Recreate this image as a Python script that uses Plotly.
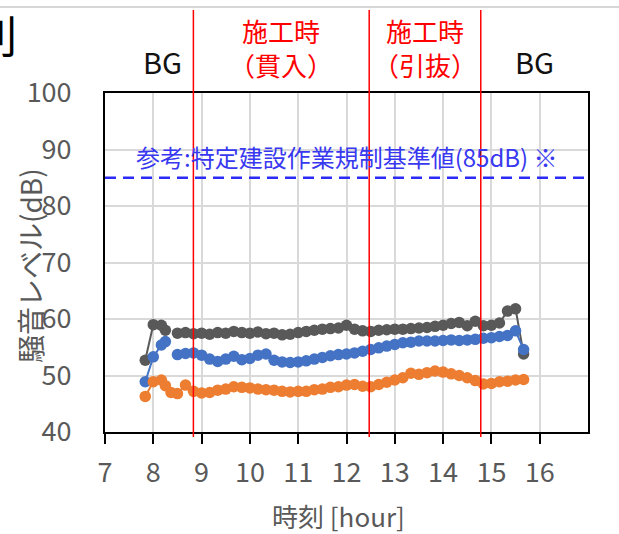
import plotly.graph_objects as go

# ---------------- data ----------------
times = ["7:50", "8:00", "8:10", "8:15", "8:22",
         "8:30", "8:40", "8:50",
         "9:00", "9:10", "9:20", "9:30", "9:40", "9:50",
         "10:00", "10:10", "10:20", "10:30", "10:40", "10:50",
         "11:00", "11:10", "11:20", "11:30", "11:40", "11:50",
         "12:00", "12:10", "12:20", "12:30", "12:40", "12:50",
         "13:00", "13:10", "13:20", "13:30", "13:40", "13:50",
         "14:00", "14:10", "14:20", "14:30", "14:40", "14:50",
         "15:00", "15:10", "15:20", "15:30", "15:40"]

gray_values = [52.7, 59.0, 58.9, 58.0, None,
               57.5, 57.6, 57.4,
               57.5, 57.3, 57.6, 57.5, 57.8, 57.6,
               57.5, 57.7, 57.4, 57.5, 57.2, 57.3,
               57.6, 57.8, 58.0, 58.2, 58.3, 58.4,
               58.9, 58.2, 57.9, 57.8, 58.0, 58.1,
               58.2, 58.2, 58.3, 58.4, 58.5, 58.7,
               58.9, 59.2, 59.4, 58.8, 59.6, 58.8,
               58.9, 59.3, 61.4, 61.8, 53.8]

blue_values = [48.9, 53.3, 55.4, 56.0, None,
               53.7, 53.9, 54.0,
               53.6, 52.9, 52.5, 52.9, 53.4, 52.8,
               53.0, 53.6, 53.8, 52.7, 52.4, 52.3,
               52.4, 52.6, 52.9, 53.2, 53.5, 53.7,
               53.8, 54.0, 54.3, 54.6, 54.9, 55.2,
               55.5, 55.8, 55.9, 56.1, 56.1, 56.1,
               56.2, 56.3, 56.2, 56.3, 56.4, 56.6,
               56.7, 56.9, 57.1, 57.9, 54.6]

orange_values = [46.3, 48.9, 49.2, 48.2, 47.0,
                 46.8, 48.3, 47.2,
                 46.9, 47.0, 47.4, 47.6, 48.0, 47.9,
                 47.8, 47.6, 47.5, 47.4, 47.2, 47.1,
                 47.2, 47.2, 47.5, 47.6, 47.9, 48.0,
                 48.3, 48.4, 48.1, 48.0, 48.4, 48.8,
                 49.2, 49.6, 50.4, 50.2, 50.5, 50.8,
                 50.6, 50.3, 50.0, 49.6, 49.1, 48.5,
                 48.6, 48.9, 49.0, 49.2, 49.3]

phase_boundaries = [8.83, 12.47, 14.78]
bg_label_x = [8.2, 15.9]
bg_label = "BG"
work_label_x = [10.65, 13.62]
work_labels = ["施工時<br>（貫入）", "施工時<br>（引抜）"]
reference_level = 85
reference_text = "参考:特定建設作業規制基準値(85dB) ※"
x_ticks = [7, 8, 9, 10, 11, 12, 13, 14, 15, 16]
y_ticks = [40, 50, 60, 70, 80, 90, 100]


def to_hour(t):
    h, m = t.split(":")
    return int(h) + int(m) / 60.0


hours = [to_hour(t) for t in times]

FONT = "Noto Sans CJK JP"
L, R, T, B = 105, 31, 93, 102
W, H = 619, 534
PW, PH = W - L - R, H - T - B


def px_to_paper_x(px):
    return (px - L) / PW


def px_to_paper_y(py):
    return (H - B - py) / PH


fig = go.Figure()

for name, vals, col in [("系列1", gray_values, "#595959"),
                        ("系列2", blue_values, "#4472C4"),
                        ("系列3", orange_values, "#ED7D31")]:
    fig.add_trace(go.Scatter(
        x=hours, y=vals, name=name, mode="lines+markers",
        line=dict(color=col, width=2),
        marker=dict(color=col, size=11.5),
        connectgaps=False, showlegend=False, cliponaxis=False))

# reference dashed line
fig.add_shape(type="line", xref="paper", yref="y", x0=0, x1=1,
              y0=reference_level, y1=reference_level,
              line=dict(color="#2B2BF5", width=2.5, dash="11px,7px"))

# red phase boundary lines
for b in phase_boundaries:
    fig.add_shape(type="line", xref="x", yref="paper", x0=b, x1=b,
                  y0=px_to_paper_y(437), y1=px_to_paper_y(10),
                  line=dict(color="#FF0000", width=1.5))

# top gray rule
fig.add_shape(type="line", xref="paper", yref="paper",
              x0=px_to_paper_x(0), x1=px_to_paper_x(W),
              y0=px_to_paper_y(7), y1=px_to_paper_y(7),
              line=dict(color="#C8C8C8", width=1.5))

annotations = []
for xv in bg_label_x:
    annotations.append(dict(
        x=xv, xref="x", y=px_to_paper_y(61), yref="paper",
        text=bg_label, showarrow=False, xanchor="center", yanchor="middle",
        font=dict(family=FONT, size=29, color="#111111")))
for xv, lab in zip(work_label_x, work_labels):
    annotations.append(dict(
        x=xv, xref="x", y=px_to_paper_y(47.5), yref="paper",
        text=lab, showarrow=False, xanchor="center", yanchor="middle",
        align="center",
        font=dict(family=FONT, size=26, color="#FF0000")))

annotations.append(dict(
    x=px_to_paper_x(347), xref="paper", y=px_to_paper_y(156), yref="paper",
    text=reference_text, showarrow=False, xanchor="center", yanchor="middle",
    font=dict(family=FONT, size=24, color="#3838F0")))

# axis titles
annotations.append(dict(
    x=px_to_paper_x(30), xref="paper", y=px_to_paper_y(266), yref="paper",
    text="騒音レベル(dB)", textangle=-90, showarrow=False,
    xanchor="center", yanchor="middle",
    font=dict(family=FONT, size=28, color="#595959")))
annotations.append(dict(
    x=px_to_paper_x(338), xref="paper", y=px_to_paper_y(515), yref="paper",
    text="時刻 [hour]", showarrow=False, xanchor="center", yanchor="middle",
    font=dict(family=FONT, size=26, color="#595959")))

# cropped character at the top-left edge (part of the source page)
annotations.append(dict(
    x=px_to_paper_x(-29), xref="paper", y=px_to_paper_y(34), yref="paper",
    text="則", showarrow=False, xanchor="left", yanchor="middle",
    font=dict(family=FONT, size=44, color="#000000")))

fig.update_layout(
    width=W, height=H,
    margin=dict(l=L, r=R, t=T, b=B, pad=0),
    paper_bgcolor="white", plot_bgcolor="white",
    annotations=annotations,
    font=dict(family=FONT, color="#595959"),
    xaxis=dict(range=[7, 17], tickvals=x_ticks, ticktext=[str(v) for v in x_ticks],
               showgrid=True, gridcolor="#D9D9D9", gridwidth=1.5,
               showline=True, linecolor="#000000", linewidth=2, mirror=True,
               ticks="outside", ticklen=10, tickwidth=2, tickcolor="#000000",
               ticklabelstandoff=6,
               tickfont=dict(family=FONT, size=27, color="#595959"),
               zeroline=False, fixedrange=True),
    yaxis=dict(range=[40, 100], tickvals=y_ticks,
               showgrid=True, gridcolor="#D9D9D9", gridwidth=1.5,
               showline=True, linecolor="#000000", linewidth=2, mirror=True,
               ticks="", ticklabelstandoff=26,
               tickfont=dict(family=FONT, size=27, color="#595959"),
               zeroline=False, fixedrange=True),
)

fig.write_html("out.html",
               config={"displayModeBar": False},
               post_script="document.body.style.margin='0';"
                           "document.body.style.overflow='hidden';")
